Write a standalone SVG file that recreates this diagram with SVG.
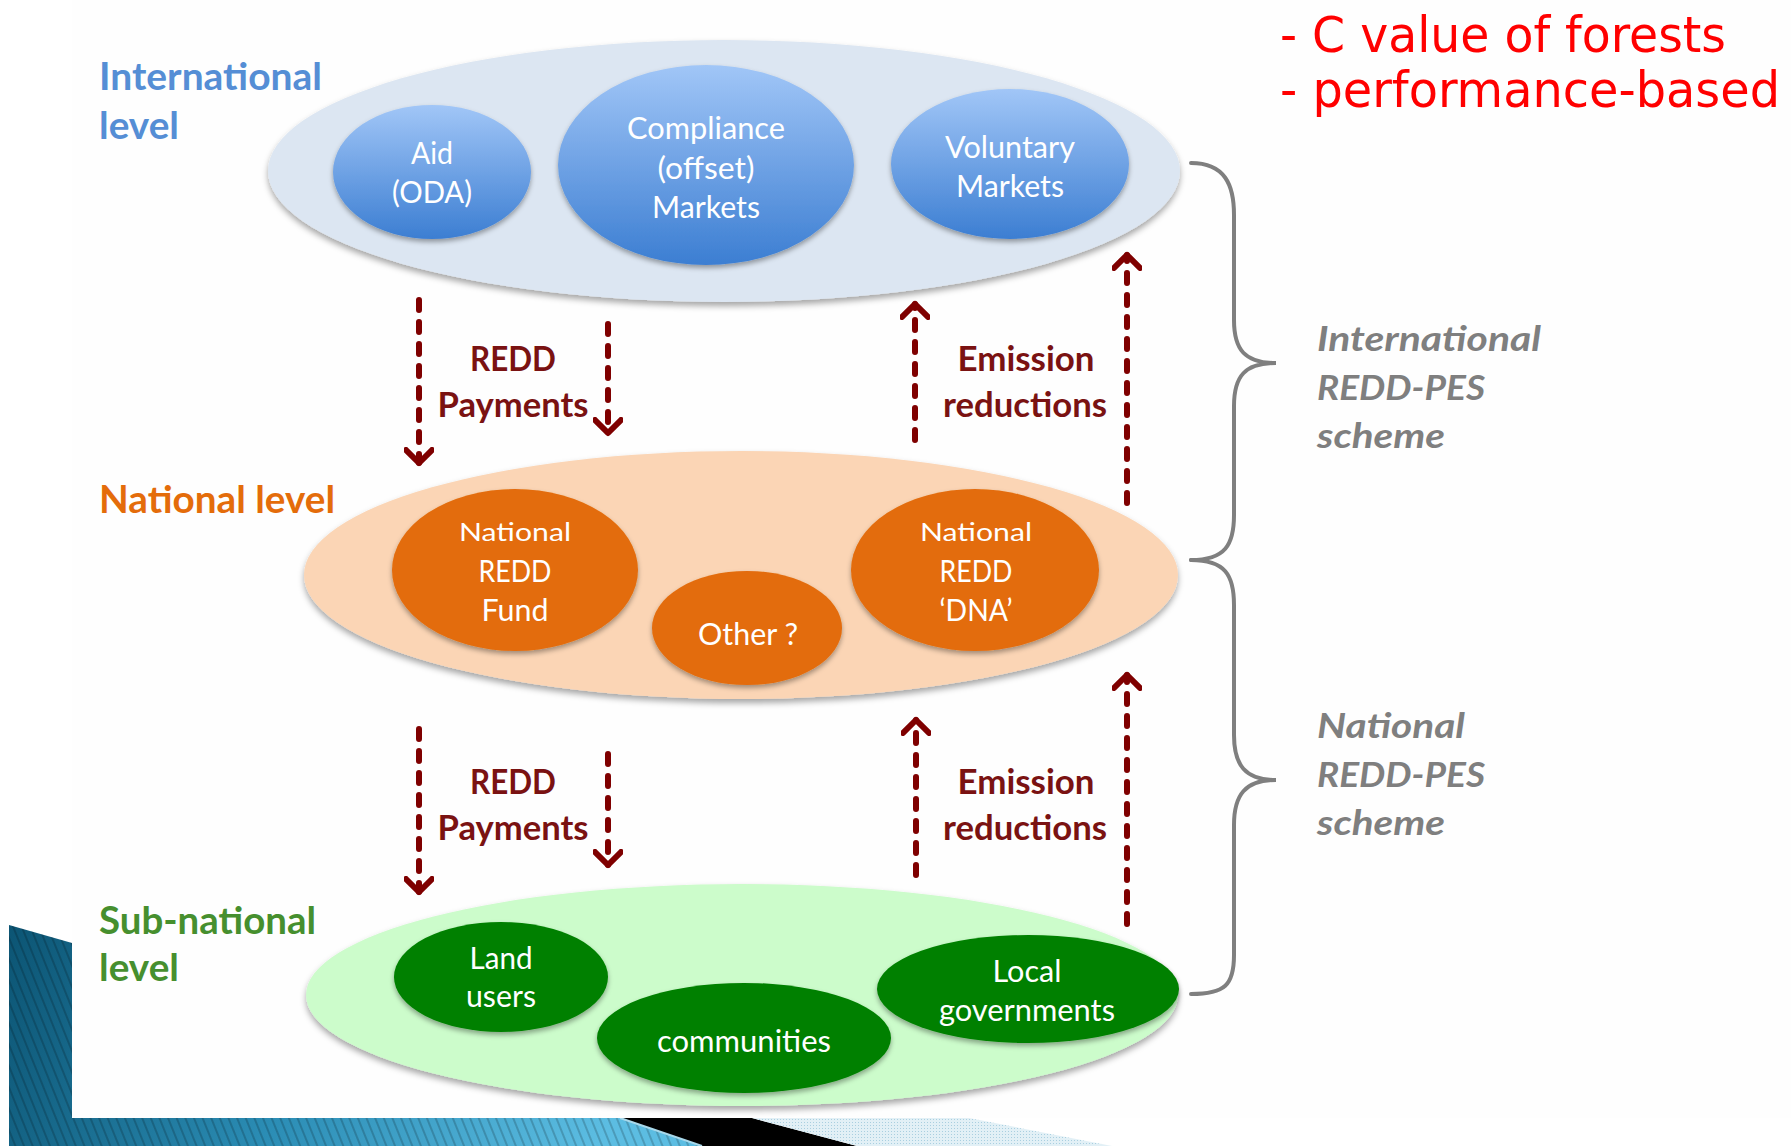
<svg xmlns="http://www.w3.org/2000/svg" width="1791" height="1146" viewBox="0 0 1791 1146">
<style>
.lvl{font-family:Lato,'Open Sans',sans-serif;font-weight:700;font-size:38px}
.in{font-family:Lato,'Open Sans',sans-serif;font-size:30px;fill:#fff;text-anchor:middle}
.flow{font-family:Lato,'Open Sans',sans-serif;font-weight:700;font-size:34px;fill:#7a1212;text-anchor:middle}
.sch{font-family:Lato,'Open Sans',sans-serif;font-weight:700;font-style:italic;font-size:34px;fill:#7f7f7f}
.red{font-family:'DejaVu Sans',sans-serif;font-stretch:condensed;font-size:50px;fill:#ff0000}
.arr{fill:none;stroke:#7f0000;stroke-width:6;stroke-dasharray:10 12;stroke-linecap:round;marker-end:url(#chev)}
.brace{fill:none;stroke:#7f7f7f;stroke-width:4;stroke-linecap:round}
.blue{fill:url(#gBlue);filter:url(#sh2)}
.orange{fill:#e36c0a;filter:url(#sh2)}
.green{fill:#008000;filter:url(#sh2)}
</style>
<defs>
<linearGradient id="gBlue" x1="0" y1="0" x2="0" y2="1"><stop offset="0" stop-color="#a1c6f7"/><stop offset="1" stop-color="#3c7ed2"/></linearGradient>
<linearGradient id="gDeco" gradientUnits="userSpaceOnUse" x1="10" y1="925" x2="600" y2="1146"><stop offset="0" stop-color="#0c5574"/><stop offset="0.5" stop-color="#2b8db5"/><stop offset="1" stop-color="#5cbde2"/></linearGradient>
<pattern id="stripes" width="8" height="8" patternUnits="userSpaceOnUse" patternTransform="rotate(-22)"><line x1="1" y1="0" x2="1" y2="8" stroke="#000" stroke-opacity="0.3" stroke-width="1.2"/></pattern>
<pattern id="dots" width="3" height="3" patternUnits="userSpaceOnUse"><rect width="3" height="3" fill="#e2f0f6"/><rect width="1" height="1" fill="#a9cfe0"/></pattern>
<filter id="sh" x="-10%" y="-10%" width="120%" height="130%"><feDropShadow dx="0" dy="4" stdDeviation="3" flood-color="#000" flood-opacity="0.35"/></filter>
<filter id="sh2" x="-10%" y="-10%" width="120%" height="130%"><feDropShadow dx="0" dy="3" stdDeviation="2.5" flood-color="#000" flood-opacity="0.35"/></filter>
<marker id="chev" markerUnits="userSpaceOnUse" viewBox="0 0 30 30" markerWidth="30" markerHeight="30" refX="16" refY="15" orient="auto"><path d="M3,2 L16,15 L3,28" fill="none" stroke="#7f0000" stroke-width="6" stroke-linecap="round" stroke-linejoin="round"/></marker>
</defs>

<rect width="1791" height="1146" fill="#ffffff"/>

<g id="decoration">
<polygon points="9,925 72,943 72,1118 620,1118 702,1146 9,1146" fill="url(#gDeco)"/>
<polygon points="9,925 72,943 72,1118 620,1118 702,1146 9,1146" fill="url(#stripes)"/>
<polygon points="620,1118 752,1118 857,1146 702,1146" fill="#000"/>
<line x1="620" y1="1118" x2="702" y2="1146" stroke="#a8d8ea" stroke-width="2"/>
<polygon points="752,1118 969,1118 1112,1146 857,1146" fill="url(#dots)"/>
<rect x="72" y="0" width="1719" height="1118" fill="#fefefe"/>
</g>

<g id="international-level">
<ellipse cx="724" cy="171" rx="456" ry="131" fill="#dce6f2" filter="url(#sh)"/>
<text class="lvl" x="99" y="90" fill="#558ed5" textLength="223" lengthAdjust="spacingAndGlyphs">International</text>
<text class="lvl" x="99" y="139" fill="#558ed5" textLength="80" lengthAdjust="spacingAndGlyphs">level</text>
</g>
<g id="aid">
<ellipse class="blue" cx="432" cy="172" rx="99" ry="67"/>
<text class="in" x="432" y="164" textLength="42" lengthAdjust="spacingAndGlyphs">Aid</text>
<text class="in" x="432" y="203" textLength="80" lengthAdjust="spacingAndGlyphs">(ODA)</text>
</g>
<g id="compliance">
<ellipse class="blue" cx="706" cy="165" rx="148" ry="100"/>
<text class="in" x="706" y="139" textLength="158" lengthAdjust="spacingAndGlyphs">Compliance</text>
<text class="in" x="706" y="179" textLength="97" lengthAdjust="spacingAndGlyphs">(offset)</text>
<text class="in" x="706" y="218" textLength="108" lengthAdjust="spacingAndGlyphs">Markets</text>
</g>
<g id="voluntary">
<ellipse class="blue" cx="1010" cy="164" rx="119" ry="75"/>
<text class="in" x="1010" y="158" textLength="130" lengthAdjust="spacingAndGlyphs">Voluntary</text>
<text class="in" x="1010" y="197" textLength="108" lengthAdjust="spacingAndGlyphs">Markets</text>
</g>

<g id="national-level">
<ellipse cx="741" cy="575" rx="437" ry="124" fill="#fbd5b5" filter="url(#sh)"/>
<text class="lvl" x="99" y="513" fill="#e46c0a" textLength="236" lengthAdjust="spacingAndGlyphs">National level</text>
</g>
<g id="national-fund">
<ellipse class="orange" cx="515" cy="570" rx="123" ry="81"/>
<text class="in" x="515" y="541" style="font-size:25px" textLength="112" lengthAdjust="spacingAndGlyphs">National</text>
<text class="in" x="515" y="582" textLength="73" lengthAdjust="spacingAndGlyphs">REDD</text>
<text class="in" x="515" y="621" textLength="67" lengthAdjust="spacingAndGlyphs">Fund</text>
</g>
<g id="other">
<ellipse class="orange" cx="747" cy="628" rx="95" ry="57"/>
<text class="in" x="748" y="645" textLength="100" lengthAdjust="spacingAndGlyphs">Other ?</text>
</g>
<g id="national-dna">
<ellipse class="orange" cx="975" cy="570" rx="124" ry="81"/>
<text class="in" x="976" y="541" style="font-size:25px" textLength="112" lengthAdjust="spacingAndGlyphs">National</text>
<text class="in" x="976" y="582" textLength="73" lengthAdjust="spacingAndGlyphs">REDD</text>
<text class="in" x="976" y="621" textLength="73" lengthAdjust="spacingAndGlyphs">‘DNA’</text>
</g>

<g id="subnational-level">
<ellipse cx="742" cy="995" rx="436" ry="111" fill="#ccfccb" filter="url(#sh)"/>
<text class="lvl" x="99" y="934" fill="#468f2e" textLength="217" lengthAdjust="spacingAndGlyphs">Sub-national</text>
<text class="lvl" x="99" y="981" fill="#468f2e" textLength="80" lengthAdjust="spacingAndGlyphs">level</text>
</g>
<g id="land-users">
<ellipse class="green" cx="501" cy="977" rx="107" ry="55"/>
<text class="in" x="501" y="969" textLength="63" lengthAdjust="spacingAndGlyphs">Land</text>
<text class="in" x="501" y="1007" textLength="70" lengthAdjust="spacingAndGlyphs">users</text>
</g>
<g id="communities">
<ellipse class="green" cx="744" cy="1038" rx="147" ry="55"/>
<text class="in" x="744" y="1052" textLength="174" lengthAdjust="spacingAndGlyphs">communities</text>
</g>
<g id="local-governments">
<ellipse class="green" cx="1028" cy="989" rx="151" ry="54"/>
<text class="in" x="1027" y="982" textLength="69" lengthAdjust="spacingAndGlyphs">Local</text>
<text class="in" x="1027" y="1021" textLength="176" lengthAdjust="spacingAndGlyphs">governments</text>
</g>

<g id="connectors">
<path class="arr" d="M419,300 L419,463"/>
<path class="arr" d="M608,324 L608,433"/>
<path class="arr" d="M915,440 L915,304"/>
<path class="arr" d="M1127,503 L1127,255"/>
<path class="arr" d="M419,729 L419,892"/>
<path class="arr" d="M608,754 L608,865"/>
<path class="arr" d="M916,875 L916,720"/>
<path class="arr" d="M1127,924 L1127,675"/>
<path class="brace" d="M1191,163 C1225,163 1234,185 1234,215 L1234,320 C1234,350 1245,363 1276,363 C1245,363 1234,376 1234,406 L1234,515 C1234,545 1225,560 1191,560"/>
<path class="brace" d="M1191,560 C1225,560 1234,575 1234,605 L1234,735 C1234,765 1245,780 1276,780 C1245,780 1234,795 1234,825 L1234,955 C1234,985 1225,994 1191,994"/>
</g>

<g id="flow-labels">
<text class="flow" x="513" y="371" textLength="86" lengthAdjust="spacingAndGlyphs">REDD</text>
<text class="flow" x="513" y="417" textLength="151" lengthAdjust="spacingAndGlyphs">Payments</text>
<text class="flow" x="1026" y="371" textLength="137" lengthAdjust="spacingAndGlyphs">Emission</text>
<text class="flow" x="1025" y="417" textLength="164" lengthAdjust="spacingAndGlyphs">reductions</text>
<text class="flow" x="513" y="794" textLength="86" lengthAdjust="spacingAndGlyphs">REDD</text>
<text class="flow" x="513" y="840" textLength="151" lengthAdjust="spacingAndGlyphs">Payments</text>
<text class="flow" x="1026" y="794" textLength="137" lengthAdjust="spacingAndGlyphs">Emission</text>
<text class="flow" x="1025" y="840" textLength="164" lengthAdjust="spacingAndGlyphs">reductions</text>
</g>

<g id="scheme-labels">
<text class="sch" x="1317" y="351" textLength="224" lengthAdjust="spacingAndGlyphs">International</text>
<text class="sch" x="1317" y="400" textLength="168" lengthAdjust="spacingAndGlyphs">REDD-PES</text>
<text class="sch" x="1317" y="448" textLength="128" lengthAdjust="spacingAndGlyphs">scheme</text>
<text class="sch" x="1317" y="738" textLength="148" lengthAdjust="spacingAndGlyphs">National</text>
<text class="sch" x="1317" y="787" textLength="168" lengthAdjust="spacingAndGlyphs">REDD-PES</text>
<text class="sch" x="1317" y="835" textLength="128" lengthAdjust="spacingAndGlyphs">scheme</text>
</g>

<g id="notes">
<text class="red" x="1280" y="52" textLength="446" lengthAdjust="spacingAndGlyphs">- C value of forests</text>
<text class="red" x="1280" y="107" textLength="500" lengthAdjust="spacingAndGlyphs">- performance-based</text>
</g>
</svg>
